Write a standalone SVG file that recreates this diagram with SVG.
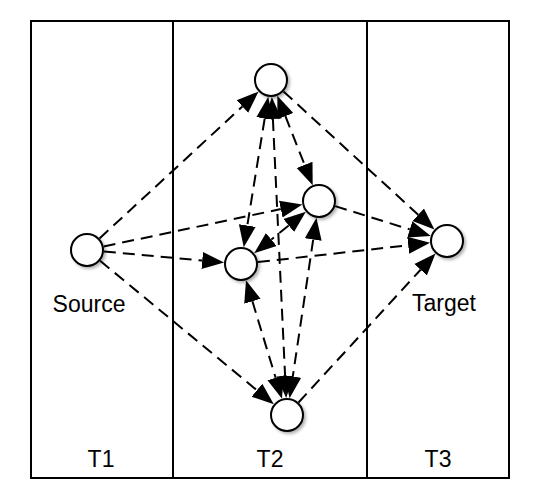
<svg xmlns="http://www.w3.org/2000/svg" width="534" height="502" viewBox="0 0 534 502">
  <style>
    .frame { fill: none; stroke: #000; stroke-width: 2; }
    .node { fill: #fff; stroke: #000; stroke-width: 2; filter: url(#shadow); }
    .edge { fill: none; stroke: #000; stroke-width: 2; stroke-dasharray: 12 7; }
    .lbl { font-family: "Liberation Sans", Arial, sans-serif; font-size: 23px; fill: #000; text-anchor: middle; }
  </style>
  <defs>
    <filter id="shadow" x="-30%" y="-30%" width="170%" height="170%">
      <feDropShadow dx="2" dy="2" stdDeviation="1.5" flood-color="#000" flood-opacity="0.3"/>
    </filter>
    <marker id="arr" markerUnits="userSpaceOnUse" markerWidth="24" markerHeight="20" viewBox="0 -10 24 20" refX="0" refY="0" orient="auto-start-reverse">
      <path d="M0,-8.5 L22,0 L0,8.5 Z" fill="#000" stroke="none"/>
    </marker>
  </defs>

  <g id="lanes">
    <rect class="frame" x="31" y="21" width="478" height="457"/>
    <line class="frame" x1="173" y1="21" x2="173" y2="478"/>
    <line class="frame" x1="367" y1="21" x2="367" y2="478"/>
    <text class="lbl" x="101" y="467">T1</text>
    <text class="lbl" x="270" y="467">T2</text>
    <text class="lbl" x="438" y="467">T3</text>
  </g>

  <g id="connectors">
    <path class="edge" d="M99.5,238.5 L242.4,106.5" marker-end="url(#arr)"/>
    <path class="edge" d="M103.6,246.5 L280.8,209.1" marker-end="url(#arr)"/>
    <path class="edge" d="M103.9,251.5 L202.2,260.5" marker-end="url(#arr)"/>
    <path class="edge" d="M100.1,260.8 L256.9,390.2" marker-end="url(#arr)"/>
    <path class="edge" d="M283.5,91.5 L418.2,214.7" marker-end="url(#arr)"/>
    <path class="edge" d="M335.2,206.1 L409.8,229.4" marker-end="url(#arr)"/>
    <path class="edge" d="M257.9,262.1 L408.2,245.3" marker-end="url(#arr)"/>
    <path class="edge" d="M298.5,402.5 L420.6,269.7" marker-end="url(#arr)"/>
    <path class="edge" d="M285.4,116.2 L304.6,164.8" marker-start="url(#arr)" marker-end="url(#arr)"/>
    <path class="edge" d="M264.7,118.5 L247.3,225.5" marker-start="url(#arr)" marker-end="url(#arr)"/>
    <path class="edge" d="M272.9,119.0 L285.1,376.0" marker-start="url(#arr)" marker-end="url(#arr)"/>
    <path class="edge" d="M288.7,225.5 L271.3,239.5" marker-start="url(#arr)" marker-end="url(#arr)"/>
    <path class="edge" d="M252.4,301.3 L275.6,377.7" marker-start="url(#arr)" marker-end="url(#arr)"/>
    <path class="edge" d="M313.2,239.6 L292.8,376.4" marker-start="url(#arr)" marker-end="url(#arr)"/>
  </g>

  <g id="source">
    <circle class="node" cx="87" cy="250" r="16"/>
    <text class="lbl" x="89" y="312">Source</text>
  </g>
  <g id="target">
    <circle class="node" cx="447" cy="241" r="16"/>
    <text class="lbl" x="444" y="311">Target</text>
  </g>
  <g id="top">
    <circle class="node" cx="271" cy="80" r="16"/>
  </g>
  <g id="mid-right">
    <circle class="node" cx="319" cy="201" r="16"/>
  </g>
  <g id="mid-left">
    <circle class="node" cx="241" cy="264" r="16"/>
  </g>
  <g id="bottom">
    <circle class="node" cx="287" cy="415" r="16"/>
  </g>
</svg>
